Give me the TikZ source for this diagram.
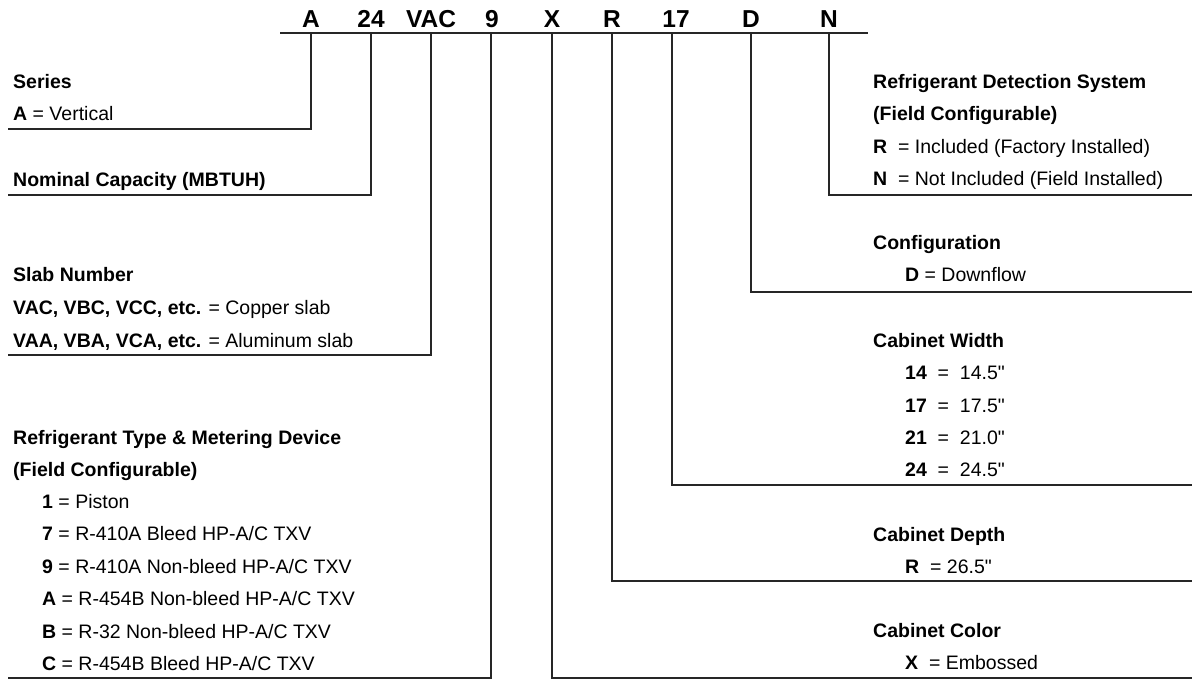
\documentclass[tikz,border=0pt]{standalone}
\usepackage{fontspec}
\setmainfont{Liberation Sans}
\newcommand{\inch}{\XeTeXglyph\XeTeXcharglyph"22\relax}
\begin{document}
\begin{tikzpicture}[x=1pt,y=-1pt,
  txt/.style={anchor=base west, inner sep=0pt, font=\fontsize{19.5}{24}\selectfont},
  code/.style={anchor=base, inner sep=0pt, font=\fontsize{24.5}{28}\selectfont\bfseries},
  rule/.style={draw=black!85, line width=1.4pt}]
\useasboundingbox (0,0) rectangle (1192,679);
% header codes
\node[code] (cA) at (311,28) {A};
\node[code] (c24) at (371,28) {24};
\node[code] (cVAC) at (431,28) {VAC};
\node[code] (c9) at (492,28) {9};
\node[code] (cX) at (552,28) {X};
\node[code] (cR) at (612,28) {R};
\node[code] (c17) at (676,28) {17};
\node[code] (cD) at (751,28) {D};
\node[code] (cN) at (829,28) {N};
\coordinate (hl) at (280,33);
\coordinate (hr) at (868,33);
\draw[rule] (hl) -- (hr);
% tick tops
\coordinate (tA) at (311,33);
\coordinate (t24) at (371,33);
\coordinate (tVAC) at (431,33);
\coordinate (t9) at (491,33);
\coordinate (tX) at (552,33);
\coordinate (tR) at (612,33);
\coordinate (t17) at (672,33);
\coordinate (tD) at (751,33);
\coordinate (tN) at (829,33);
% line ends
\coordinate (eA) at (8,129);
\coordinate (e24) at (8,195);
\coordinate (eVAC) at (8,355);
\coordinate (e9) at (8,678);
\coordinate (eX) at (1192,678);
\coordinate (eR) at (1192,581);
\coordinate (e17) at (1192,485);
\coordinate (eD) at (1192,292);
\coordinate (eN) at (1192,195);
\draw[rule] (tA) |- (eA);
\draw[rule] (t24) |- (e24);
\draw[rule] (tVAC) |- (eVAC);
\draw[rule] (t9) |- (e9);
\draw[rule] (tX) |- (eX);
\draw[rule] (tR) |- (eR);
\draw[rule] (t17) |- (e17);
\draw[rule] (tD) |- (eD);
\draw[rule] (tN) |- (eN);
% left texts
\node[txt] (s1) at (13,89) {\bfseries Series};
\node[txt] (s2) at (13,121) {\textbf{A} = Vertical};
\node[txt] (n1) at (13,187) {\bfseries Nominal Capacity (MBTUH)};
\node[txt] (sl1) at (13,282) {\bfseries Slab Number};
\node[txt] (sl2) at (13,314) {\textbf{VAC, VBC, VCC, etc.} = Copper slab};
\node[txt] (sl3) at (13,347) {\textbf{VAA, VBA, VCA, etc.} = Aluminum slab};
\node[txt] (r1) at (13,444) {\bfseries Refrigerant Type \& Metering Device};
\node[txt] (r2) at (13,476) {\bfseries (Field Configurable)};
\node[txt] (r3) at (42,508) {\textbf{1} = Piston};
\node[txt] (r4) at (42,540) {\textbf{7} = R-410A Bleed HP-A/C TXV};
\node[txt] (r5) at (42,573) {\textbf{9} = R-410A Non-bleed HP-A/C TXV};
\node[txt] (r6) at (42,605) {\textbf{A} = R-454B Non-bleed HP-A/C TXV};
\node[txt] (r7) at (42,638) {\textbf{B} = R-32 Non-bleed HP-A/C TXV};
\node[txt] (r8) at (42,670) {\textbf{C} = R-454B Bleed HP-A/C TXV};
% right texts
\node[txt] (d1) at (873,89) {\bfseries Refrigerant Detection System};
\node[txt] (d2) at (873,121) {\bfseries (Field Configurable)};
\node[txt] (d3) at (873,154) {\textbf{R}\ \ = Included (Factory Installed)};
\node[txt] (d4) at (873,186) {\textbf{N}\ \ = Not Included (Field Installed)};
\node[txt] (g1) at (873,250) {\bfseries Configuration};
\node[txt] (g2) at (905,282) {\textbf{D} = Downflow};
\node[txt] (w1) at (873,347) {\bfseries Cabinet Width};
\node[txt] (w2) at (905,379) {\textbf{14}\ \ =\ \ 14.5\inch};
\node[txt] (w3) at (905,412) {\textbf{17}\ \ =\ \ 17.5\inch};
\node[txt] (w4) at (905,444) {\textbf{21}\ \ =\ \ 21.0\inch};
\node[txt] (w5) at (905,476) {\textbf{24}\ \ =\ \ 24.5\inch};
\node[txt] (p1) at (873,541) {\bfseries Cabinet Depth};
\node[txt] (p2) at (905,573) {\textbf{R}\ \ = 26.5\inch};
\node[txt] (k1) at (873,637) {\bfseries Cabinet Color};
\node[txt] (k2) at (905,669) {\textbf{X}\ \ = Embossed};
\end{tikzpicture}
\end{document}
